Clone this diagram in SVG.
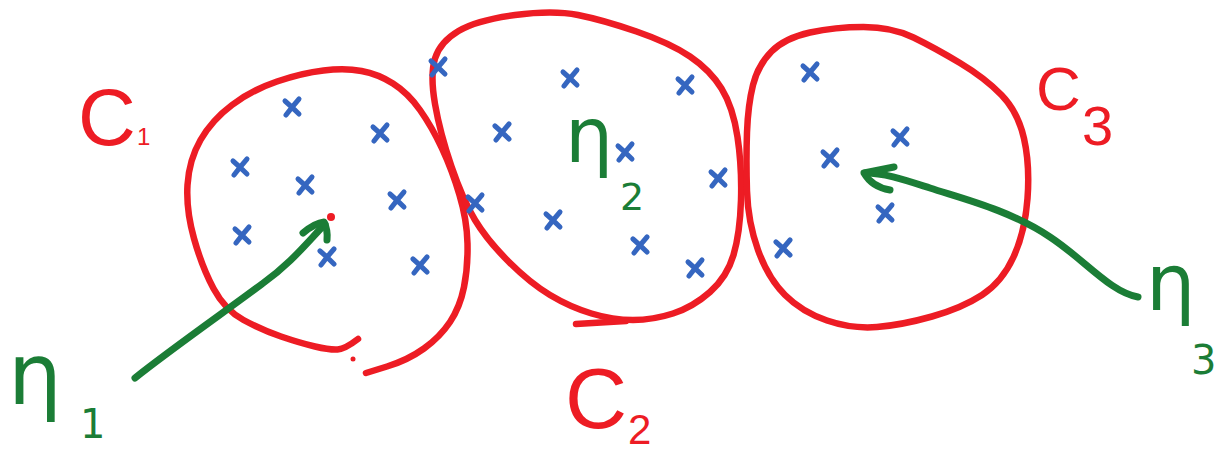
<svg xmlns="http://www.w3.org/2000/svg" width="1215" height="454" viewBox="0 0 1215 454">
<style>
.ring{fill:none;stroke:#ED1C24;stroke-width:6.5;stroke-linecap:round;stroke-linejoin:round}
.pt{fill:none;stroke:#3566C0;stroke-width:5;stroke-linecap:round;stroke-linejoin:round}
.arr{fill:none;stroke:#1B7D36;stroke-width:7;stroke-linecap:round;stroke-linejoin:round}
.lc{fill:#ED1C24;font-family:"Liberation Sans",Arial,sans-serif}
.lm{fill:#1B7D36;font-family:"DejaVu Sans","Liberation Sans",sans-serif}
</style>
<defs>
<path id="xm" class="pt" d="M-7,-6 Q0,0 7,7 M7,-8 Q0,0 -6,8"/>
</defs>
<rect width="1215" height="454" fill="#fff"/>

<g id="cluster-c1">
<path class="ring" d="M 358,339 Q 345,349 337.5,349.5 Q 330,350 315,346.5 Q 300,343 281,336.5 Q 262,330 243.5,320 Q 225,310 213.5,288.5 Q 202,267 194,238.5 Q 186,210 187.5,185 Q 189,160 200.5,140 Q 212,120 232,105 Q 252,90 277,81.5 Q 302,73 323.5,70.5 Q 345,68 361.5,71 Q 378,74 393,83.5 Q 408,93 420,110 Q 432,127 442,148.5 Q 452,170 459.5,195 Q 467,220 467.5,243.5 Q 468,267 464,287 Q 460,307 450,322 Q 440,337 424,348.5 Q 408,360 387,366.5 L 366,373"/>
<circle cx="353" cy="359" r="2.5" fill="#ED1C24"/>
<circle cx="331" cy="217" r="4" fill="#ED1C24"/>
<use href="#xm" x="292" y="107"/>
<use href="#xm" x="380" y="133"/>
<use href="#xm" x="240" y="167"/>
<use href="#xm" x="305" y="185"/>
<use href="#xm" x="397" y="200"/>
<use href="#xm" x="242" y="235"/>
<use href="#xm" x="327" y="257"/>
<use href="#xm" x="420" y="265"/>
<text class="lc" x="78" y="145" font-size="80">C</text>
<text class="lc" x="137" y="145" font-size="24">1</text>
</g>

<g id="cluster-c2">
<path class="ring" d="M 633,320 Q 613,320 591.5,313.5 Q 570,307 550,295 Q 530,283 508.5,261.5 Q 487,240 475,220 Q 463,200 451.5,166.5 Q 440,133 435,104 Q 430,75 435,58.5 Q 440,42 458.5,31 Q 477,20 515,15 Q 553,10 578,15 Q 603,20 636.5,31.5 Q 670,43 690,56.5 Q 710,70 721.5,88.5 Q 733,107 737.5,137 Q 742,167 741,200 Q 740,233 733.5,255 Q 727,277 710,292 Q 693,307 673,313.5 Q 653,320 633,320 Z"/>
<path class="ring" d="M 576,324 L 626,321"/>
<use href="#xm" x="438" y="67"/>
<use href="#xm" x="570" y="78"/>
<use href="#xm" x="685" y="85"/>
<use href="#xm" x="502" y="132"/>
<use href="#xm" x="625" y="152"/>
<use href="#xm" x="718" y="178"/>
<use href="#xm" x="475" y="203"/>
<use href="#xm" x="553" y="220"/>
<use href="#xm" x="640" y="245"/>
<use href="#xm" x="695" y="268"/>
<text class="lc" x="565" y="428" font-size="86">C</text>
<text class="lc" x="628" y="444" font-size="42">2</text>
</g>

<g id="cluster-c3">
<path class="ring" d="M 877,327 Q 852,329 827,320.5 Q 802,312 785,295 Q 768,278 758,250 Q 748,222 747,191 Q 746,160 747,132.5 Q 748,105 753,85 Q 758,65 771.5,51.5 Q 785,38 810,32.5 Q 835,27 863.5,27 Q 892,27 913.5,37.5 Q 935,48 960,63 Q 985,78 1001.5,95 Q 1018,112 1024,138.5 Q 1030,165 1027.5,198.5 Q 1025,232 1013.5,257 Q 1002,282 982,295 Q 962,308 932,316.5 Q 902,325 877,327 Z"/>
<use href="#xm" x="810" y="72"/>
<use href="#xm" x="900" y="137"/>
<use href="#xm" x="830" y="158"/>
<use href="#xm" x="885" y="213"/>
<use href="#xm" x="783" y="248"/>
<text class="lc" x="1036" y="110" font-size="62">C</text>
<text class="lc" x="1082" y="145" font-size="56">3</text>
</g>

<g id="label-eta1">
<text class="lm" x="8" y="404" font-size="85">η</text>
<text class="lm" x="80" y="438" font-size="40">1</text>
</g>
<g id="label-eta2">
<text class="lm" x="565" y="162" font-size="76">η</text>
<text class="lm" x="620" y="210" font-size="38">2</text>
</g>
<g id="label-eta3">
<text class="lm" x="1146" y="310" font-size="78">η</text>
<text class="lm" x="1191" y="374" font-size="40">3</text>
</g>

<g id="connectors">
<path class="arr" d="M 135,378 C 170,350 230,308 262,284 C 290,264 305,245 325,224"/>
<path class="arr" d="M 303,233 Q 315,223 324,222 Q 328,230 327,240"/>
<path class="arr" d="M 1138,297 C 1110,292 1085,260 1050,237 C 1010,210 960,198 930,188 C 905,180 885,173 865,173"/>
<path class="arr" d="M 894,167 L 864,173 Q 872,187 890,190"/>
</g>
</svg>
